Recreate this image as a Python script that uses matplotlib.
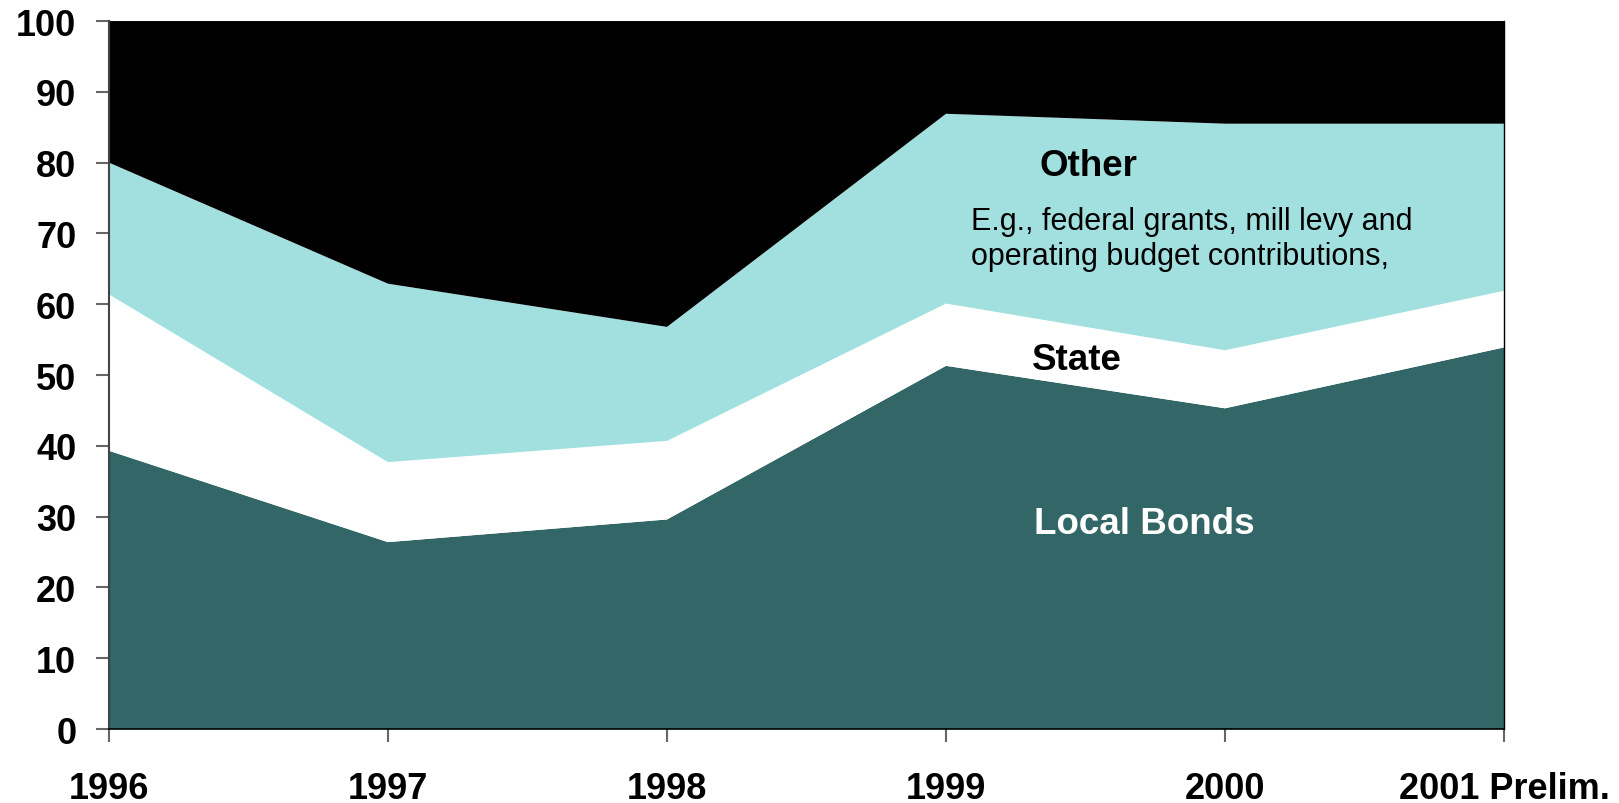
import matplotlib
matplotlib.use("Agg")
import matplotlib.pyplot as plt

plt.rcParams['font.family'] = ['Liberation Sans', 'DejaVu Sans']

# Datos (porcentaje de financiación)
years = ["1996", "1997", "1998", "1999", "2000", "2001 Prelim."]
local_bonds = [39.3, 26.4, 29.6, 51.3, 45.3, 53.9]
state = [22.1, 11.3, 11.1, 8.8, 8.2, 8.0]
other = [18.6, 25.2, 16.1, 26.8, 32.0, 23.6]
remainder = [20.0, 37.1, 43.2, 13.1, 14.5, 14.5]

colors = ["#336666", "#ffffff", "#a2e0e0", "#000000"]

x = list(range(len(years)))

fig = plt.figure(figsize=(16.19, 8.04), dpi=100)
ax = fig.add_axes([0.0673, 0.092, 0.8617, 0.8806])

ax.stackplot(x, local_bonds, state, other, remainder, colors=colors, linewidth=0)

ax.set_xlim(0, len(years) - 1)
ax.set_ylim(0, 100)
ax.set_yticks(range(0, 101, 10))
ax.set_xticks(x)
ax.set_xticklabels(years)

for lbl in ax.get_xticklabels() + ax.get_yticklabels():
    lbl.set_fontweight("bold")
    lbl.set_fontsize(26)

ax.tick_params(axis="y", direction="out", length=9.5, width=1.5, color="#666666", pad=14)
ax.tick_params(axis="x", direction="out", length=9, width=1.5, color="#666666", pad=21)

ax.spines["top"].set_visible(False)
ax.spines["left"].set_color("#444444")
ax.spines["left"].set_linewidth(1.5)
ax.spines["bottom"].set_linewidth(1.2)
ax.spines["right"].set_linewidth(1.0)

# Etiquetas de las áreas
ax.text(3.51, 79.6, "Other", fontsize=26.5, fontweight="bold", ha="center", va="center")
ax.text(3.09, 69.3, "E.g., federal grants, mill levy and\noperating budget contributions,",
        fontsize=22, ha="left", va="center", linespacing=1.25)
ax.text(3.47, 52.2, "State", fontsize=26.5, fontweight="bold", ha="center", va="center")
ax.text(3.71, 29.0, "Local Bonds", fontsize=26.5, fontweight="bold", ha="center", va="center",
        color="white")

fig.savefig("out.png", dpi=100)
